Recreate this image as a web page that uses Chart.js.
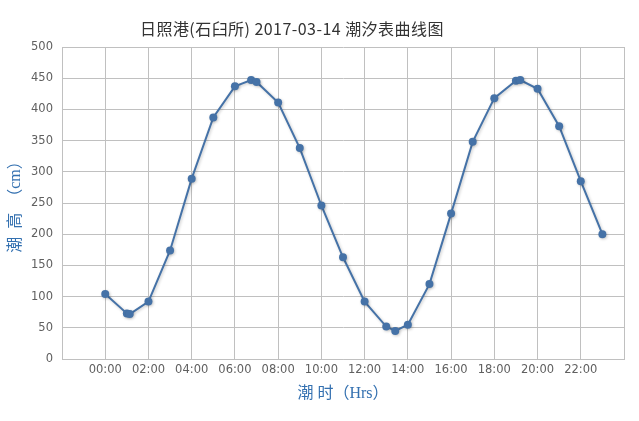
<!DOCTYPE html>
<html>
<head>
<meta charset="utf-8">
<script src="https://cdn.jsdelivr.net/npm/chart.js@4.4.1/dist/chart.umd.min.js"></script>
<style>
  body { margin: 0; background: #fff; }
  #wrap { position: relative; width: 639px; height: 421px; }
  #title {
    position: absolute; left: 140px; top: 16px; line-height: 20px; letter-spacing: 0.45px;
    font: 16px "Noto Sans CJK SC", sans-serif; color: #333; white-space: nowrap;
  }
</style>
</head>
<body>
<div id="wrap">
  <canvas id="tideChart"></canvas>
  <div id="title">日照港(石臼所) 2017-03-14 潮汐表曲线图</div>
</div>
<script>
// tide readings
const times = ["00:00", "01:00", "01:08", "02:00", "03:00", "04:00", "05:00", "06:00",
  "06:45", "07:00", "08:00", "09:00", "10:00", "11:00", "12:00", "13:00", "13:25",
  "14:00", "15:00", "16:00", "17:00", "18:00", "19:00", "19:12", "20:00", "21:00",
  "22:00", "23:00"];
const heights = [104, 73, 72, 92, 174, 289, 387, 437,
  447, 444, 411, 338, 246, 163, 92, 52, 45,
  55, 120, 233, 348, 418, 446, 447, 433, 373,
  285, 200];

const toHours = (t) => {
  const [h, m] = t.split(":").map(Number);
  return h + m / 60;
};

const points = times.map((t, i) => ({ x: toHours(t), y: heights[i] }));

const shadow = {
  id: "lineShadow",
  beforeDatasetsDraw(chart) {
    const ctx = chart.ctx;
    ctx.save();
    ctx.shadowColor = "rgba(0,0,0,0.22)";
    ctx.shadowBlur = 3;
    ctx.shadowOffsetX = 1;
    ctx.shadowOffsetY = 1;
  },
  afterDatasetsDraw(chart) {
    chart.ctx.restore();
  },
};

const tickFont = { family: "DejaVu Sans", size: 11.5 };
const gridColor = "#c0c0c0";

new Chart(document.getElementById("tideChart"), {
  type: "line",
  data: {
    datasets: [
      {
        label: "潮高",
        data: points,
        borderColor: "#4572A7",
        backgroundColor: "#4572A7",
        borderWidth: 2,
        pointRadius: 4,
        pointBorderWidth: 0,
        pointHoverRadius: 4,
        tension: 0,
        fill: false,
      },
    ],
  },
  options: {
    responsive: true,
    maintainAspectRatio: false,
    animation: false,
    layout: { padding: { top: 47, right: 15, left: 0, bottom: 0 } },
    plugins: {
      legend: { display: false },
      tooltip: { enabled: false },
    },
    scales: {
      x: {
        type: "linear",
        min: -2,
        max: 24,
        afterFit: (s) => { s.height = 62; },
        grid: { color: gridColor, drawTicks: false },
        border: { color: gridColor },
        ticks: {
          stepSize: 2,
          padding: 4,
          color: "#606060",
          font: tickFont,
          maxRotation: 0,
          callback: (v) => (v < 0 || v >= 24 ? "" : String(v).padStart(2, "0") + ":00"),
        },
        title: {
          display: true,
          text: "潮 时（Hrs）",
          color: "#3370b0",
          font: { family: "Liberation Serif, Noto Sans CJK SC", size: 16 },
          padding: { top: 20, bottom: 18 },
        },
      },
      y: {
        min: 0,
        max: 500,
        afterFit: (s) => { s.width = 62; },
        grid: { color: gridColor, drawTicks: false },
        border: { color: gridColor },
        ticks: {
          stepSize: 50,
          padding: 9,
          color: "#606060",
          font: tickFont,
        },
        title: {
          display: true,
          text: "潮  高  （cm）",
          color: "#3370b0",
          font: { family: "Liberation Serif, Noto Sans CJK SC", size: 16 },
          padding: { top: 6, bottom: 5 },
        },
      },
    },
  },
  plugins: [shadow],
});
</script>
</body>
</html>
